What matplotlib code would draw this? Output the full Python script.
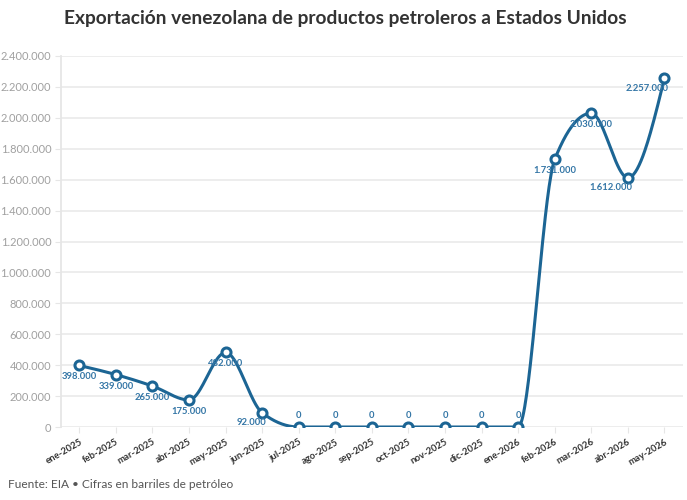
import numpy as np
import matplotlib
matplotlib.use("Agg")
import matplotlib.pyplot as plt
from matplotlib.ticker import FuncFormatter

# data
months = ["ene-2025", "feb-2025", "mar-2025", "abr-2025", "may-2025", "jun-2025",
          "jul-2025", "ago-2025", "sep-2025", "oct-2025", "nov-2025", "dic-2025",
          "ene-2026", "feb-2026", "mar-2026", "abr-2026", "may-2026"]
barrels = [398000, 339000, 265000, 175000, 482000, 92000,
           0, 0, 0, 0, 0, 0,
           0, 1731000, 2030000, 1612000, 2257000]
# where each label sits: b = below, a = above, bl = below-left
label_pos = ["b", "b", "b", "b", "b", "bl",
             "a", "a", "a", "a", "a", "a",
             "a", "b", "b", "bl", "bl"]

title = "Exportación venezolana de productos petroleros a Estados Unidos"
source = "Fuente: EIA • Cifras en barriles de petróleo"

LINE = "#1c6594"
LABEL = "#3476a6"

plt.rcParams['font.family'] = ['Lato', 'DejaVu Sans']


def fmt(v):
    return f"{int(v):,}".replace(",", ".")


def monotone(x, y, n=40):
    # monotone cubic (like d3 curveMonotoneX)
    x = np.asarray(x, float)
    y = np.asarray(y, float)
    h = np.diff(x)
    s = np.diff(y) / h
    m = np.zeros(len(x))
    for i in range(1, len(x) - 1):
        if s[i - 1] * s[i] <= 0:
            m[i] = 0
        else:
            p = (s[i - 1] * h[i] + s[i] * h[i - 1]) / (h[i - 1] + h[i])
            m[i] = (np.sign(s[i - 1]) + np.sign(s[i])) * min(abs(s[i - 1]), abs(s[i]), 0.5 * abs(p))
    m[0] = (3 * s[0] - m[1]) / 2
    m[-1] = (3 * s[-1] - m[-2]) / 2
    xs, ys = [], []
    for i in range(len(x) - 1):
        t = np.linspace(0, 1, n)
        h00 = 2 * t**3 - 3 * t**2 + 1
        h10 = t**3 - 2 * t**2 + t
        h01 = -2 * t**3 + 3 * t**2
        h11 = t**3 - t**2
        xs.extend(x[i] + t * h[i])
        ys.extend(h00 * y[i] + h10 * h[i] * m[i] + h01 * y[i + 1] + h11 * h[i] * m[i + 1])
    return np.array(xs), np.array(ys)


fig = plt.figure(figsize=(6.87, 5.0), dpi=100)
ax = fig.add_axes([0.0888, 0.146, 0.905, 0.742])

xi = np.arange(len(months))
cx, cy = monotone(xi, barrels)
ax.plot(cx, cy, color=LINE, lw=2.2, zorder=3, solid_capstyle="round")
ax.plot(xi, barrels, "o", ms=6.5, mfc="white", mec=LINE, mew=2.2, zorder=4)

for x, v, p in zip(xi, barrels, label_pos):
    if p == "a":
        off, ha, va = (0, 5), "center", "bottom"
    elif p == "b":
        off, ha, va = (0, -5), "center", "top"
    else:
        off, ha, va = (3, -4), "right", "top"
    ax.annotate(fmt(v), (x, v), xytext=off, textcoords="offset points",
                ha=ha, va=va, fontsize=6.8, fontweight="bold", color=LABEL, zorder=5)

ax.set_xlim(-0.5, len(months) - 0.5)
ax.set_ylim(0, 2400000)
ax.set_yticks(np.arange(0, 2400001, 200000))
ax.yaxis.set_major_formatter(FuncFormatter(lambda v, _: fmt(v)))
ax.set_xticks(xi)
ax.set_xticklabels(months, rotation=30, ha="right", rotation_mode="anchor",
                   fontsize=6.8, fontweight="bold", color="#333333")
ax.tick_params(axis="y", labelsize=8, labelcolor="#a0a0a0", color="#e6e6e6", length=4, pad=3)
ax.tick_params(axis="x", color="#e6e6e6", length=4)
ax.grid(axis="y", color="#ececec", lw=1.3, zorder=0)
for side in ["top", "right", "bottom"]:
    ax.spines[side].set_visible(False)
ax.spines["left"].set_color("#e6e6e6")
ax.spines["left"].set_linewidth(1.3)

fig.text(0.502, 0.963, title, ha="center", va="center", fontsize=13.8,
         fontweight="bold", color="#333333")
fig.text(0.012, 0.03, source, ha="left", va="center", fontsize=8.6, color="#555555")

fig.savefig("out.png", dpi=100)
